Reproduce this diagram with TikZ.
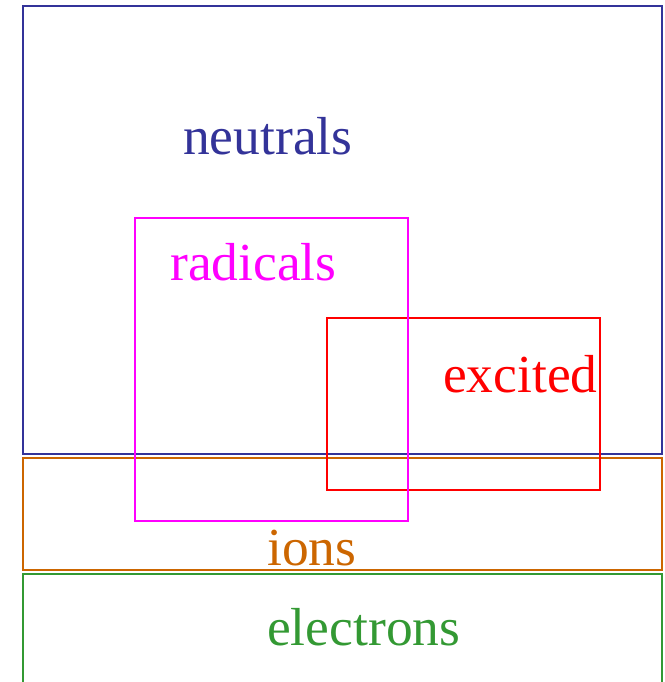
\documentclass[tikz,border=0pt]{standalone}
\usepackage{fontspec}
\setmainfont{Liberation Serif}
\definecolor{neutralblue}{HTML}{333399}
\definecolor{radicalpink}{HTML}{FF00FF}
\definecolor{excitedred}{HTML}{FF0000}
\definecolor{ionorange}{HTML}{CC6600}
\definecolor{electrongreen}{HTML}{339933}

\begin{document}
\begin{tikzpicture}[x=1pt, y=-1pt,
  species/.style={line width=2.3pt},
  every node/.style={font=\fontsize{53.5}{60}\selectfont, anchor=base west, inner sep=0pt}]
  \useasboundingbox (0,0) rectangle (664,682);
  % populations
  \draw[species, neutralblue] (23,6) rectangle (662,454);
  \draw[species, ionorange] (23,458) rectangle (662,570);
  \draw[species, electrongreen] (23,682) -- (23,574) -- (662,574) -- (662,682);
  \draw[species, excitedred] (327,318) rectangle (600,490);
  \draw[species, radicalpink] (135,218) rectangle (408,521);
  % labels
  \node[text=neutralblue] (neutrals) at (183,154) {neutrals};
  \node[text=radicalpink] (radicals) at (170,280) {radicals};
  \node[text=excitedred] (excited) at (443,392) {excited};
  \node[text=ionorange] (ions) at (267,565) {ions};
  \node[text=electrongreen] (electrons) at (267,645) {electrons};
\end{tikzpicture}
\end{document}
